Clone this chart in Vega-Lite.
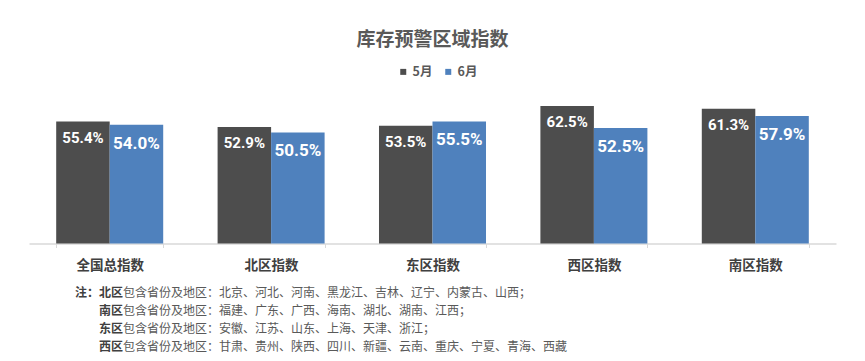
{
  "$schema": "https://vega.github.io/schema/vega-lite/v6.json",
  "padding": {"left": 29, "top": 30.5, "right": 5, "bottom": 5},
  "background": "#ffffff",
  "title": {
    "text": "库存预警区域指数",
    "font": "Noto Sans CJK SC",
    "fontSize": 19,
    "fontWeight": "bold",
    "color": "#595959",
    "anchor": "middle",
    "offset": 15.5
  },
  "datasets": {
    "bars": [
      {"region": "全国总指数", "month": "5月", "value": 0.554},
      {"region": "北区指数", "month": "5月", "value": 0.529},
      {"region": "东区指数", "month": "5月", "value": 0.535},
      {"region": "西区指数", "month": "5月", "value": 0.625},
      {"region": "南区指数", "month": "5月", "value": 0.613},
      {"region": "全国总指数", "month": "6月", "value": 0.540},
      {"region": "北区指数", "month": "6月", "value": 0.505},
      {"region": "东区指数", "month": "6月", "value": 0.555},
      {"region": "西区指数", "month": "6月", "value": 0.525},
      {"region": "南区指数", "month": "6月", "value": 0.579}
    ],
    "notes": [
      {"line": 1, "head": "注：北区", "body": "包含省份及地区：北京、河北、河南、黑龙江、吉林、辽宁、内蒙古、山西；"},
      {"line": 2, "head": "南区", "body": "包含省份及地区：福建、广东、广西、海南、湖北、湖南、江西；"},
      {"line": 3, "head": "东区", "body": "包含省份及地区：安徽、江苏、山东、上海、天津、浙江；"},
      {"line": 4, "head": "西区", "body": "包含省份及地区：甘肃、贵州、陕西、四川、新疆、云南、重庆、宁夏、青海、西藏"}
    ]
  },
  "spacing": 11,
  "vconcat": [
    {
      "width": 807,
      "height": 154,
      "data": {"name": "bars"},
      "encoding": {
        "x": {
          "field": "region",
          "type": "nominal",
          "sort": null,
          "scale": {"paddingInner": 0.337, "paddingOuter": 0.1685},
          "axis": {
            "title": null,
            "labelAngle": 0,
            "labelFont": "Noto Sans CJK SC",
            "labelFontSize": 13.5,
            "labelFontWeight": "bold",
            "labelColor": "#404040",
            "labelPadding": 10.7,
            "domainColor": "#d9d9d9",
            "domainWidth": 1.5,
            "tickColor": "#d9d9d9",
            "tickSize": 4,
            "tickBand": "extent"
          }
        },
        "xOffset": {
          "field": "month",
          "type": "nominal",
          "scale": {"domain": ["5月", "6月"], "paddingInner": 0, "paddingOuter": 0}
        },
        "y": {
          "field": "value",
          "type": "quantitative",
          "scale": {"domain": [0, 0.7], "nice": false},
          "axis": null
        }
      },
      "layer": [
        {
          "mark": {"type": "bar"},
          "encoding": {
            "color": {
              "field": "month",
              "type": "nominal",
              "scale": {"domain": ["5月", "6月"], "range": ["#4d4d4d", "#4f81bd"]},
              "legend": {
                "orient": "none",
                "legendX": 368,
                "legendY": -24,
                "direction": "horizontal",
                "title": null,
                "symbolType": "square",
                "symbolSize": 36,
                "symbolStrokeWidth": 0,
                "labelFont": "Noto Sans CJK SC",
                "labelFontSize": 12.5,
                "labelFontWeight": "bold",
                "labelColor": "#595959",
                "labelOffset": 3,
                "columnPadding": 9
              }
            }
          }
        },
        {
          "transform": [{"filter": "datum.month === '5月'"}],
          "mark": {
            "type": "text",
            "font": "Roboto",
            "fontSize": 15,
            "fontWeight": "bold",
            "color": "#ffffff",
            "baseline": "alphabetic",
            "dy": 21
          },
          "encoding": {
            "text": {"field": "value", "type": "quantitative", "format": ".1%"}
          }
        },
        {
          "transform": [{"filter": "datum.month === '6月'"}],
          "mark": {
            "type": "text",
            "font": "Roboto",
            "fontSize": 17,
            "fontWeight": "bold",
            "color": "#ffffff",
            "baseline": "alphabetic",
            "dy": 24
          },
          "encoding": {
            "text": {"field": "value", "type": "quantitative", "format": ".1%"}
          }
        }
      ]
    },
    {
      "width": 188,
      "height": 73,
      "data": {"name": "notes"},
      "encoding": {
        "y": {
          "field": "line",
          "type": "ordinal",
          "scale": {"paddingInner": 0, "paddingOuter": 0},
          "axis": null
        }
      },
      "layer": [
        {
          "mark": {
            "type": "text",
            "align": "right",
            "baseline": "middle",
            "font": "Noto Sans CJK SC",
            "fontSize": 12,
            "fontWeight": "bold",
            "color": "#404040"
          },
          "encoding": {"text": {"field": "head"}}
        },
        {
          "mark": {
            "type": "text",
            "align": "left",
            "baseline": "middle",
            "font": "Noto Sans CJK SC",
            "fontSize": 12,
            "color": "#595959"
          },
          "encoding": {"text": {"field": "body"}}
        }
      ]
    }
  ],
  "config": {
    "view": {"stroke": null},
    "axis": {"grid": false}
  }
}
